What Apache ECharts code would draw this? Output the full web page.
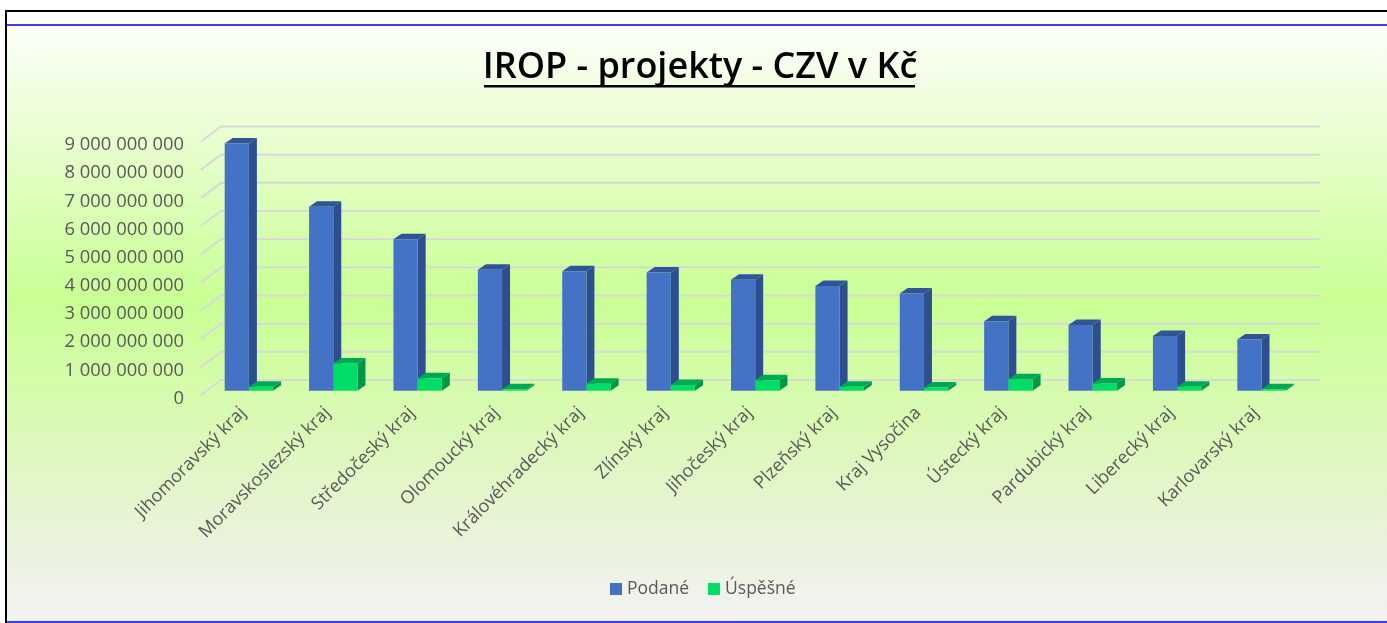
<!DOCTYPE html>
<html lang="cs">
<head>
<meta charset="utf-8">
<title>IROP - projekty - CZV v Kč</title>
<script src="https://cdn.jsdelivr.net/npm/echarts@6/dist/echarts.min.js"></script>
<style>
html,body{margin:0;padding:0;background:#fff;}
#chart{width:1387px;height:623px;filter:blur(0.4px);}
</style>
</head>
<body>
<div id="chart"></div>
<script>
const titleText = 'IROP - projekty - CZV v Kč';
const categories = ['Jihomoravský kraj','Moravskoslezský kraj','Středočeský kraj','Olomoucký kraj','Královéhradecký kraj','Zlínský kraj','Jihočeský kraj','Plzeňský kraj','Kraj Vysočina','Ústecký kraj','Pardubický kraj','Liberecký kraj','Karlovarský kraj'];
const podane = [8780000000,6530000000,5380000000,4290000000,4240000000,4200000000,3940000000,3720000000,3450000000,2470000000,2330000000,1940000000,1820000000];
const uspesne = [140000000,970000000,440000000,50000000,250000000,200000000,370000000,140000000,110000000,410000000,260000000,140000000,50000000];
const yTicks = [0,1000000000,2000000000,3000000000,4000000000,5000000000,6000000000,7000000000,8000000000,9000000000];
const seriesNames = ['Podané','Úspěšné'];

const FONT = '"Open Sans", sans-serif';
const BAR_W = 24.2, SIDE_X = 8, SIDE_Y = 5.5, SHIFT_X = 5.7, SHIFT_Y = 4.3, WALL_X = 20, WALL_Y = 15;

function fmt(v){ return '{a|' + String(v).replace(/\B(?=(\d{3})+(?!\d))/g,' ') + '}'; }

function barRenderer(dirLeft, front, side, top){
  return function(params, api){
    const i = api.value(0), v = api.value(1);
    const t = api.coord([i, v]), b = api.coord([i, 0]);
    const cx = t[0] + SHIFT_X;
    const x0 = dirLeft ? cx - BAR_W : cx;
    const x1 = x0 + BAR_W;
    const yt = t[1] - SHIFT_Y, yb = b[1] - SHIFT_Y;
    return {type:'group', children:[
      {type:'polygon', shape:{points:[[x1,yt],[x1+SIDE_X,yt-SIDE_Y],[x1+SIDE_X,yb-SIDE_Y],[x1,yb]]}, style:{fill:side}},
      {type:'polygon', shape:{points:[[x0,yt],[x0+SIDE_X,yt-SIDE_Y],[x1+SIDE_X,yt-SIDE_Y],[x1,yt]]}, style:{fill:top}},
      {type:'rect', shape:{x:x0,y:yt,width:BAR_W,height:yb-yt}, style:{fill:front}}
    ]};
  };
}

function wallRenderer(params, api){
  const c = api.coord([0, api.value(1)]);
  const sys = params.coordSys;
  const xa = sys.x, xb = sys.x + sys.width, y = c[1];
  return {type:'polyline', silent:true,
    shape:{points:[[xa,y],[xa+WALL_X,y-WALL_Y],[xb+WALL_X+2,y-WALL_Y]]},
    style:{stroke:'#d8d8d8', lineWidth:2, fill:'none'}};
}

const chart = echarts.init(document.getElementById('chart'), null, {renderer:'canvas'});
chart.setOption({
  animation:false,
  backgroundColor:'#ffffff',
  title:{text:titleText, left:695, top:45, textAlign:'center',
    textStyle:{fontFamily:FONT, fontSize:36, fontWeight:600, color:'#000000'}},
  legend:{data:seriesNames, left:605, top:575, itemWidth:12, itemHeight:12, itemGap:19, selectedMode:false,
    icon:'rect', textStyle:{fontFamily:FONT, fontSize:17.5, color:'#595959'}},
  grid:{left:201, top:141.5, width:1097, height:253.5, containLabel:false},
  xAxis:{type:'category', data:categories,
    axisLine:{show:false}, axisTick:{show:false}, splitLine:{show:false},
    axisLabel:{rotate:45, interval:0, margin:15, fontFamily:FONT, fontSize:18, color:'#595959'}},
  yAxis:{type:'value', min:0, max:9000000000, interval:1000000000,
    axisLine:{show:false}, axisTick:{show:false}, splitLine:{show:false},
    axisLabel:{margin:17, formatter:fmt,
      rich:{a:{fontFamily:FONT, fontSize:18.4, color:'#595959', padding:[7,0,0,0]}}}},
  graphic:[
    {type:'rect', z:-10, silent:true, shape:{x:6,y:25,width:1381,height:597},
      style:{fill:new echarts.graphic.LinearGradient(0,0,0,1,[
        {offset:0,color:'#fcfff8'},{offset:0.12,color:'#f0fedf'},{offset:0.46,color:'#c9ff94'},
        {offset:0.62,color:'#d6fbad'},{offset:0.85,color:'#e8f3d8'},{offset:1,color:'#f2f2f2'}])}},
    {type:'rect', z:10, silent:true, shape:{x:5,y:10,width:1382,height:2}, style:{fill:'#000000'}},
    {type:'rect', z:10, silent:true, shape:{x:5,y:10,width:2,height:613}, style:{fill:'#000000'}},
    {type:'rect', z:10, silent:true, shape:{x:7,y:24,width:1380,height:2}, style:{fill:'#3c3cff'}},
    {type:'rect', z:10, silent:true, shape:{x:7,y:621,width:1380,height:2}, style:{fill:'#3c3cff'}},
    {type:'rect', z:10, silent:true, shape:{x:484,y:85,width:431,height:2.5}, style:{fill:'#000000'}}
  ],
  series:[
    {type:'custom', name:'wall', silent:true, z:1, clip:false, renderItem:wallRenderer,
      data:yTicks.map(v=>[0,v]), encode:{x:0,y:1}},
    {type:'custom', name:seriesNames[0], z:2, clip:false, itemStyle:{color:'#4472c4'},
      renderItem:barRenderer(true,'#4472c4','#2d4f8f','#2f5597'),
      data:podane.map((v,i)=>[i,v]), encode:{x:0,y:1}},
    {type:'custom', name:seriesNames[1], z:3, clip:false, itemStyle:{color:'#00dd66'},
      renderItem:barRenderer(false,'#00dd66','#009848','#00a852'),
      data:uspesne.map((v,i)=>[i,v]), encode:{x:0,y:1}}
  ]
});
</script>
</body>
</html>
